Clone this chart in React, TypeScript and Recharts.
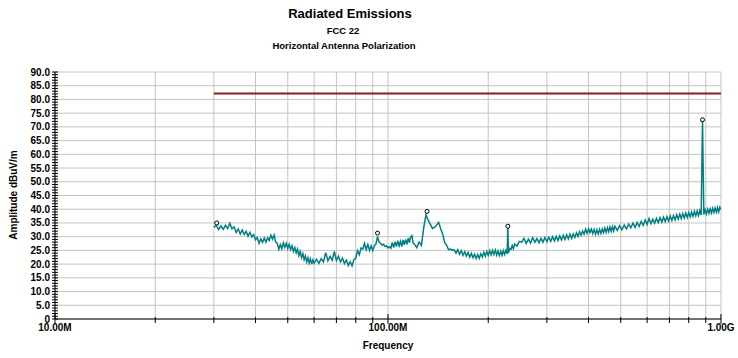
import { CartesianGrid, ComposedChart, Line, Scatter, XAxis, YAxis } from 'recharts'

// Sweep points in MHz with measured amplitude in dBuV/m, split by band
const freqA = [
  30, 30.5, 31, 31.5, 32, 32.5, 33, 33.5, 34, 34.5, 35, 35.5, 36, 36.5, 37, 37.5, 38, 38.5, 39, 39.5,
  40, 40.5, 41, 41.5, 42, 42.5, 43, 43.5, 44, 44.5, 45, 45.5, 46, 46.5, 47, 47.5, 48, 48.5, 49, 49.5,
  50, 50.5, 51, 51.5, 52, 52.5, 53, 53.5, 54, 54.5, 55, 55.5, 56, 56.5, 57, 57.5, 58, 58.5, 59, 59.5, 60,
]
const ampA = [
  33.4, 34.2, 32.6, 33.9, 32.7, 34.1, 33.0, 34.9, 32.8, 33.6, 31.5, 32.8, 31.0, 32.4, 30.8, 31.9, 30.2, 31.6, 29.9, 30.8,
  28.9, 29.7, 27.6, 29.2, 27.9, 29.5, 28.0, 29.6, 28.6, 30.5, 29.1, 30.6, 28.0, 27.6, 25.4, 27.1, 25.6, 27.8, 26.1, 27.6,
  25.7, 27.2, 25.3, 26.7, 24.6, 26.0, 24.1, 25.5, 23.1, 24.6, 22.4, 23.8, 21.6, 23.0, 20.8, 22.3, 20.4, 21.9, 20.0, 21.6, 20.3,
]

const freqB = [
  61, 62, 63, 64, 65, 66, 67, 68, 69, 70, 71, 72, 73, 74, 75, 76, 77, 78, 79, 80,
  81, 82, 83, 84, 85, 86, 87, 88, 89, 90, 91, 92, 93, 94, 95, 96, 97, 98, 99, 100,
  101, 102, 103, 104, 105, 106, 107, 108, 109, 110, 111, 112, 113, 114, 115, 116, 117, 118, 119, 120,
]
const ampB = [
  21.8, 20.3, 22.0, 20.8, 24.2, 21.2, 22.8, 21.4, 24.6, 21.3, 22.9, 20.8, 22.2, 20.2, 21.5, 19.5, 20.9, 19.4, 21.6, 22.1,
  24.9, 23.4, 25.9, 25.5, 27.6, 25.3, 27.1, 25.0, 26.7, 24.9, 26.7, 27.3, 30.0, 28.0, 27.6, 26.9, 27.2, 26.4, 26.7, 25.9,
  26.3, 25.8, 27.9, 26.0, 28.2, 26.4, 28.5, 26.6, 28.3, 26.4, 28.8, 27.0, 29.0, 27.2, 29.5, 27.8, 29.9, 30.4, 27.6, 27.3,
]

const freqC = [
  122, 124, 126, 128, 130, 132, 134, 136, 138, 140, 142, 144, 146, 148, 150, 152, 154, 156, 158, 160,
  162, 164, 166, 168, 170, 172, 174, 176, 178, 180, 182, 184, 186, 188, 190, 192, 194, 196, 198, 200,
  202, 204, 206, 208, 210, 212, 214, 216, 218, 220, 222, 224, 226, 228, 229, 230, 232, 234, 236, 238, 240,
]
const ampC = [
  26.0, 28.0, 26.8, 33.2, 38.0, 36.0, 34.5, 33.0, 33.4, 34.2, 35.2, 32.8, 30.9, 27.9, 26.8, 25.3, 25.5, 25.1, 25.2, 24.0,
  25.3, 23.6, 24.9, 23.2, 24.5, 22.9, 24.2, 22.5, 23.9, 22.3, 23.6, 22.0, 23.5, 22.1, 23.8, 22.6, 24.3, 22.9, 24.6, 23.2,
  24.9, 23.4, 25.0, 23.5, 25.1, 23.3, 24.8, 23.1, 24.7, 23.2, 24.9, 23.5, 25.0, 23.7, 33.6, 24.1, 25.7, 25.4, 26.8, 25.6, 27.3,
]

const freqD = [
  244, 248, 252, 256, 260, 264, 268, 272, 276, 280, 284, 288, 292, 296, 300, 304, 308, 312, 316, 320,
  324, 328, 332, 336, 340, 344, 348, 352, 356, 360, 364, 368, 372, 376, 380, 384, 388, 392, 396, 400,
  404, 408, 412, 416, 420, 424, 428, 432, 436, 440, 444, 448, 452, 456, 460, 464, 468, 472, 476, 480,
]
const ampD = [
  26.6, 28.3, 28.0, 29.4, 27.5, 29.1, 27.7, 29.6, 27.9, 29.3, 27.8, 29.4, 28.0, 29.7, 28.2, 29.8, 28.3, 30.0, 28.5, 30.1,
  28.6, 30.3, 28.8, 30.5, 29.0, 30.7, 29.2, 30.9, 29.4, 31.0, 29.7, 31.4, 30.1, 31.8, 30.5, 32.1, 30.9, 32.7, 31.2, 32.9,
  31.5, 32.8, 31.1, 32.6, 30.9, 32.5, 31.0, 32.7, 31.2, 32.8, 31.4, 33.1, 31.6, 33.3, 31.8, 33.5, 32.0, 33.7, 32.1, 33.8,
]

const freqE = [
  488, 496, 504, 512, 520, 528, 536, 544, 552, 560, 568, 576, 584, 592, 600, 608, 616, 624, 632, 640,
  648, 656, 664, 672, 680, 688, 696, 704, 712, 720, 728, 736, 744, 752, 760, 768, 776, 784, 792, 800,
  808, 816, 824, 832, 840, 848, 856, 864, 872, 880, 888, 896, 904, 912, 920, 928, 936, 944, 952, 960,
  968, 976, 984, 992, 1000,
]
const ampE = [
  32.3, 34.0, 32.5, 34.2, 32.8, 34.6, 33.2, 35.0, 33.4, 35.2, 33.7, 35.6, 34.1, 36.1, 34.5, 36.6, 34.8, 36.4, 34.9, 36.7,
  35.1, 36.9, 35.3, 37.1, 35.5, 37.3, 35.7, 37.5, 35.9, 37.7, 36.1, 38.0, 36.4, 38.2, 36.6, 38.4, 36.8, 38.6, 37.0, 38.8,
  37.2, 39.0, 37.4, 39.2, 37.6, 39.3, 37.7, 39.5, 37.9, 72.6, 38.1, 39.8, 38.3, 40.0, 38.5, 40.1, 38.6, 40.3, 38.8, 40.4,
  38.9, 40.6, 39.0, 40.7, 39.8,
]

// Peak markers
const peakFreq = [30.6, 93, 131, 229, 880]
const peakAmp = [35.0, 31.3, 39.2, 33.8, 72.6]

// Limit line
const limitFreq = [30, 1000]
const limitAmp = [82.2, 82.2]

// Axis ticks
const xTicks = [10, 20, 30, 40, 50, 60, 70, 80, 90, 100, 200, 300, 400, 500, 600, 700, 800, 900, 1000]
const xDecades = [10, 100, 1000]
const xDecadeLabels = ['10.00M', '100.00M', '1.00G']
const yMajorTicks = [0, 5, 10, 15, 20, 25, 30, 35, 40, 45, 50, 55, 60, 65, 70, 75, 80, 85, 90]
const yTicks = Array.from({ length: 91 }, (_, i) => i)

const zip = (fs: number[], as: number[]) => fs.map((f, i) => ({ f, a: as[i] }))

const sweep = [
  ...zip(freqA, ampA),
  ...zip(freqB, ampB),
  ...zip(freqC, ampC),
  ...zip(freqD, ampD),
  ...zip(freqE, ampE),
]
const peaks = zip(peakFreq, peakAmp)
const limit = zip(limitFreq, limitAmp)

const FONT = '"Liberation Sans", Arial, sans-serif'

function YTick(props: any) {
  const { x, y, payload } = props
  const v = payload.value
  const label = v % 5 === 0 ? (v === 0 ? '0' : v.toFixed(1)) : ''
  return (
    <g>
      <line x1={x + 2} x2={x + 8} y1={y} y2={y} stroke="#000" strokeWidth={1} />
      {label && (
        <text x={x} y={y} dy="0.35em" textAnchor="end" fontSize={10} fontWeight="bold" fontFamily={FONT} fill="#000">
          {label}
        </text>
      )}
    </g>
  )
}

function XTick(props: any) {
  const { x, y, payload } = props
  const idx = xDecades.indexOf(payload.value)
  const axisY = y - 4
  return (
    <g>
      <line
        x1={x}
        x2={x}
        y1={idx >= 0 ? axisY - 5 : axisY - 2}
        y2={idx >= 0 ? axisY + 5 : axisY + 4}
        stroke="#000"
        strokeWidth={1}
      />
      {idx >= 0 && (
        <text x={x} y={y} dy="0.78em" textAnchor="middle" fontSize={10} fontWeight="bold" fontFamily={FONT} fill="#000">
          {xDecadeLabels[idx]}
        </text>
      )}
    </g>
  )
}

const Marker = (props: any) => (
  <circle cx={props.cx} cy={props.cy} r={2} fill="#fff" stroke="#000" strokeWidth={1} />
)

const textStyle = {
  position: 'absolute' as const,
  fontFamily: FONT,
  fontWeight: 'bold' as const,
  color: '#000',
  whiteSpace: 'nowrap' as const,
  textAlign: 'center' as const,
  lineHeight: 1,
}

export default function App() {
  return (
    <div style={{ position: 'absolute', left: 0, top: 0, width: 738, height: 358, background: '#fff' }}>
      <div style={{ ...textStyle, left: 0, width: 700, top: 7, fontSize: 13 }}>Radiated Emissions</div>
      <div style={{ ...textStyle, left: 0, width: 686, top: 26, fontSize: 9.5 }}>FCC 22</div>
      <div style={{ ...textStyle, left: 0, width: 688, top: 41, fontSize: 9.5 }}>Horizontal Antenna Polarization</div>
      <div
        style={{
          ...textStyle,
          left: 14 - 100,
          width: 200,
          top: 190,
          fontSize: 10,
          transform: 'rotate(-90deg)',
        }}
      >
        Amplitude dBuV/m
      </div>
      <div style={{ ...textStyle, left: 288, width: 200, top: 341, fontSize: 10 }}>Frequency</div>

      <ComposedChart width={738} height={358} margin={{ top: 72, right: 17, bottom: 0, left: 0 }}>
        <CartesianGrid stroke="#c4c4c4" horizontalValues={yMajorTicks} verticalValues={xTicks} />
        <XAxis
          dataKey="f"
          type="number"
          scale="log"
          domain={[10, 1000]}
          allowDataOverflow
          ticks={xTicks}
          interval={0}
          height={39}
          tickSize={4}
          tickMargin={0}
          tickLine={false}
          axisLine={{ stroke: '#000' }}
          tick={<XTick />}
        />
        <YAxis
          type="number"
          domain={[0, 90]}
          ticks={yTicks}
          interval={0}
          width={55}
          tickSize={5}
          tickMargin={0}
          tickLine={false}
          axisLine={{ stroke: '#000' }}
          tick={<YTick />}
        />
        <Line
          data={limit}
          dataKey="a"
          stroke="#8c1c1c"
          strokeWidth={2}
          dot={false}
          isAnimationActive={false}
        />
        <Line
          data={sweep}
          dataKey="a"
          stroke="#008080"
          strokeWidth={1.5}
          dot={false}
          isAnimationActive={false}
        />
        <Scatter data={peaks} dataKey="a" shape={<Marker />} isAnimationActive={false} />
      </ComposedChart>
    </div>
  )
}
